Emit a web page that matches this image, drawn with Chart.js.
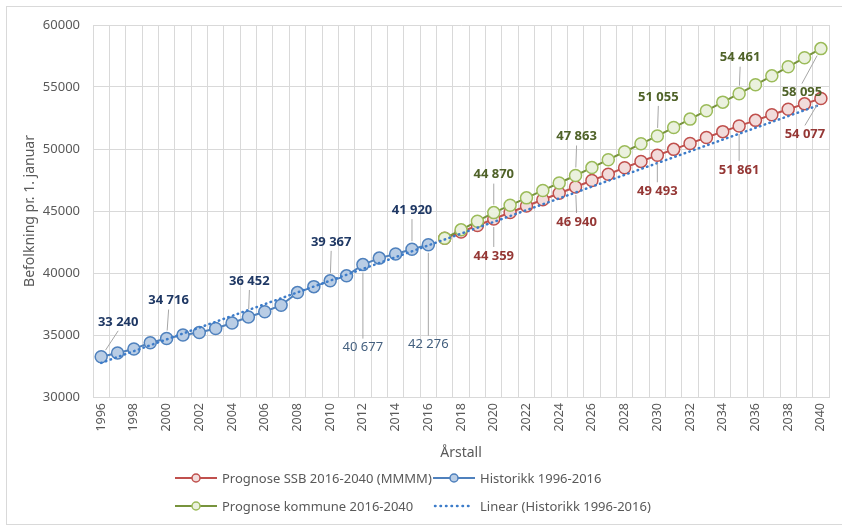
<!DOCTYPE html>
<html>
<head>
<meta charset="utf-8">
<script src="https://cdn.jsdelivr.net/npm/chart.js@4.4.0/dist/chart.umd.min.js"></script>
<style>
  html, body { margin: 0; padding: 0; background: #fff; }
  #wrap { position: relative; width: 842px; height: 527px; overflow: hidden; font-family: "Noto Sans", sans-serif; }
  #frame { position: absolute; left: 6px; top: 6px; width: 860px; height: 519px; border: 1px solid #d9d9d9; box-sizing: border-box; }
  #chart { position: absolute; left: 0; top: 0; }
  .leg { position: absolute; height: 16px; line-height: 16px; font-size: 13px; color: #595959; white-space: nowrap; }
  .leg svg { position: absolute; left: 0; top: 2px; }
  .leg span { position: absolute; left: 47px; top: 0; }
</style>
</head>
<body>
<div id="wrap">
  <div id="frame"></div>
  <canvas id="chart" width="842" height="527"></canvas>
  <div id="legend"></div>
</div>
<script>
// Categories (år)
const years = ['1996', '1997', '1998', '1999', '2000', '2001', '2002', '2003', '2004', '2005',
  '2006', '2007', '2008', '2009', '2010', '2011', '2012', '2013', '2014', '2015', '2016',
  '2017', '2018', '2019', '2020', '2021', '2022', '2023', '2024', '2025', '2026', '2027',
  '2028', '2029', '2030', '2031', '2032', '2033', '2034', '2035', '2036', '2037', '2038',
  '2039', '2040'];

// Historikk 1996-2016
const historikk = [33240, 33550, 33870, 34380, 34716, 35000, 35200, 35520, 35970, 36452,
  36880, 37400, 38420, 38900, 39367, 39770, 40677, 41200, 41530, 41920, 42276];

// Prognoser 2017-2040
const prognoseSSB = [42800, 43300, 43830, 44359, 44880, 45400, 45910, 46430, 46940, 47460,
  47970, 48490, 49000, 49493, 49970, 50450, 50930, 51400, 51861, 52310, 52760, 53200,
  53640, 54077];
const prognoseKommune = [42800, 43480, 44180, 44870, 45460, 46060, 46660, 47260, 47863, 48500,
  49140, 49780, 50420, 51055, 51730, 52410, 53090, 53780, 54461, 55180, 55900, 56630,
  57360, 58095];

// Lineær trendlinje (endepunkter 1996 og 2040, lest av figuren)
const linearStart = 32750;
const linearEnd = 53600;

const yTicks = [30000, 35000, 40000, 45000, 50000, 55000, 60000];

// datasett i rekkefølge: 0 = SSB, 1 = Historikk, 2 = Kommune, 3 = Linear
const valueLabels = [
  { ds: 1, year: '1996', dx: 17, dy: -35, color: '#1F3864', bold: true },
  { ds: 1, year: '2000', dx: 2, dy: -38, color: '#1F3864', bold: true },
  { ds: 1, year: '2005', dx: 1, dy: -36, color: '#1F3864', bold: true },
  { ds: 1, year: '2010', dx: 1, dy: -39, color: '#1F3864', bold: true },
  { ds: 1, year: '2012', dx: 0, dy: 83, color: '#44607F', bold: false },
  { ds: 1, year: '2015', dx: 0, dy: -39, color: '#1F3864', bold: true },
  { ds: 1, year: '2016', dx: 0, dy: 100, color: '#44607F', bold: false },
  { ds: 0, year: '2020', dx: 0, dy: 37, color: '#953735', bold: true },
  { ds: 0, year: '2025', dx: 1, dy: 35, color: '#953735', bold: true },
  { ds: 0, year: '2030', dx: 0, dy: 36, color: '#953735', bold: true },
  { ds: 0, year: '2035', dx: 0, dy: 44, color: '#953735', bold: true },
  { ds: 0, year: '2040', dx: -16, dy: 36, color: '#953735', bold: true },
  { ds: 2, year: '2020', dx: 0, dy: -38, color: '#4F6228', bold: true },
  { ds: 2, year: '2025', dx: 1, dy: -39, color: '#4F6228', bold: true },
  { ds: 2, year: '2030', dx: 1, dy: -39, color: '#4F6228', bold: true },
  { ds: 2, year: '2035', dx: 1, dy: -36, color: '#4F6228', bold: true },
  { ds: 2, year: '2040', dx: -19, dy: 44, color: '#4F6228', bold: true }
];

const histCount = historikk.length;
const histData = years.map((y, i) => i < histCount ? historikk[i] : null);
const ssbData = years.map((y, i) => i < histCount ? null : prognoseSSB[i - histCount]);
const kommuneData = years.map((y, i) => i < histCount ? null : prognoseKommune[i - histCount]);
const linearData = years.map((y, i) => i === 0 ? linearStart : (i === years.length - 1 ? linearEnd : null));

function fmt(v) {
  return String(v).replace(/\B(?=(\d{3})+(?!\d))/g, ' ');
}

// tegner dataetiketter med hjelpelinjer
const labelPlugin = {
  id: 'valueLabels',
  afterDatasetsDraw(chart) {
    const ctx = chart.ctx;
    ctx.save();
    valueLabels.forEach(function(l) {
      const idx = years.indexOf(l.year);
      const el = chart.getDatasetMeta(l.ds).data[idx];
      const value = chart.data.datasets[l.ds].data[idx];
      if (!el || value == null) return;
      const px = el.x, py = el.y;
      const lx = px + l.dx, ly = py + l.dy;
      const ex = lx, ey = ly + (l.dy < 0 ? 9 : -9);
      const vx = ex - px, vy = ey - py;
      const len = Math.sqrt(vx * vx + vy * vy);
      if (len > 10) {
        ctx.strokeStyle = '#A6A6A6';
        ctx.lineWidth = 1;
        ctx.beginPath();
        ctx.moveTo(px + vx / len * 8, py + vy / len * 8);
        ctx.lineTo(ex, ey);
        ctx.stroke();
      }
      ctx.font = (l.bold ? 'bold ' : '') + '13px "Noto Sans", sans-serif';
      ctx.fillStyle = l.color;
      ctx.textAlign = 'center';
      ctx.textBaseline = 'middle';
      ctx.fillText(fmt(value), lx, ly);
    });
    ctx.restore();
  }
};

Chart.defaults.font.family = '"Noto Sans", sans-serif';
Chart.defaults.color = '#595959';

new Chart(document.getElementById('chart'), {
  type: 'line',
  data: {
    labels: years,
    datasets: [{
      label: 'Prognose SSB 2016-2040 (MMMM)',
      data: ssbData,
      borderColor: '#C0504D',
      borderWidth: 2,
      pointRadius: 6,
      pointBorderWidth: 1.5,
      pointBackgroundColor: '#F2DCDB',
      pointBorderColor: '#C0504D',
      order: 2
    }, {
      label: 'Historikk 1996-2016',
      data: histData,
      borderColor: '#4F81BD',
      borderWidth: 2,
      pointRadius: 6,
      pointBorderWidth: 1.5,
      pointBackgroundColor: '#B9CDE5',
      pointBorderColor: '#4F81BD',
      order: 3
    }, {
      label: 'Prognose kommune 2016-2040',
      data: kommuneData,
      borderColor: '#77933C',
      borderWidth: 2,
      pointRadius: 6,
      pointBorderWidth: 1.5,
      pointBackgroundColor: '#EBF1DE',
      pointBorderColor: '#9BBB59',
      order: 1
    }, {
      label: 'Linear (Historikk 1996-2016)',
      data: linearData,
      borderColor: '#3D7CC9',
      borderWidth: 2.5,
      borderDash: [0.5, 4.5],
      borderCapStyle: 'round',
      pointRadius: 0,
      spanGaps: true,
      order: 0
    }]
  },
  options: {
    responsive: false,
    animation: false,
    events: [],
    layout: { padding: { left: 0, right: 6, top: 25, bottom: 64 } },
    plugins: {
      legend: { display: false },
      tooltip: { enabled: false }
    },
    scales: {
      x: {
        offset: true,
        grid: { offset: true, color: '#D9D9D9', drawTicks: false },
        border: { color: '#D9D9D9' },
        ticks: {
          autoSkip: false,
          minRotation: 90,
          maxRotation: 90,
          padding: 6,
          font: { size: 12.5 },
          callback: function(v, i) { return i % 2 === 0 ? years[i] : ''; }
        },
        title: { display: true, text: 'Årstall', font: { size: 14 }, padding: { top: 0, bottom: 2 } },
        afterFit: function(s) { s.height = 66; }
      },
      y: {
        min: yTicks[0],
        max: yTicks[yTicks.length - 1],
        grid: { color: '#D9D9D9', drawTicks: false },
        border: { color: '#D9D9D9' },
        afterBuildTicks: function(s) { s.ticks = yTicks.map(v => ({ value: v })); },
        ticks: {
          padding: 13,
          font: { size: 13 },
          callback: function(v) { return String(v); }
        },
        title: { display: true, text: 'Befolkning pr. 1. januar', font: { size: 14 }, padding: { top: 22, bottom: 0 } },
        afterFit: function(s) { s.width = 93; }
      }
    }
  },
  plugins: [labelPlugin]
});

// forklaring (to kolonner, to rader)
const legendItems = [
  { text: 'Prognose SSB 2016-2040 (MMMM)', line: '#C0504D', fill: '#F2DCDB', stroke: '#C0504D', x: 175, y: 470 },
  { text: 'Historikk 1996-2016', line: '#4F81BD', fill: '#B9CDE5', stroke: '#4F81BD', x: 433, y: 470 },
  { text: 'Prognose kommune 2016-2040', line: '#77933C', fill: '#EBF1DE', stroke: '#9BBB59', x: 175, y: 498 },
  { text: 'Linear (Historikk 1996-2016)', line: '#3D7CC9', dotted: true, x: 433, y: 498 }
];
const legendEl = document.getElementById('legend');
legendItems.forEach(function(it) {
  const d = document.createElement('div');
  d.className = 'leg';
  d.style.left = it.x + 'px';
  d.style.top = it.y + 'px';
  let svg = '<svg width="42" height="12">';
  if (it.dotted) {
    svg += '<line x1="2" y1="6" x2="40" y2="6" stroke="' + it.line + '" stroke-width="2.5" stroke-linecap="round" stroke-dasharray="0.5 5"/>';
  } else {
    svg += '<line x1="0" y1="6" x2="42" y2="6" stroke="' + it.line + '" stroke-width="2"/>' +
      '<circle cx="21" cy="6" r="4" fill="' + it.fill + '" stroke="' + it.stroke + '" stroke-width="1.5"/>';
  }
  svg += '</svg>';
  d.innerHTML = svg + '<span>' + it.text + '</span>';
  legendEl.appendChild(d);
});
</script>
</body>
</html>
